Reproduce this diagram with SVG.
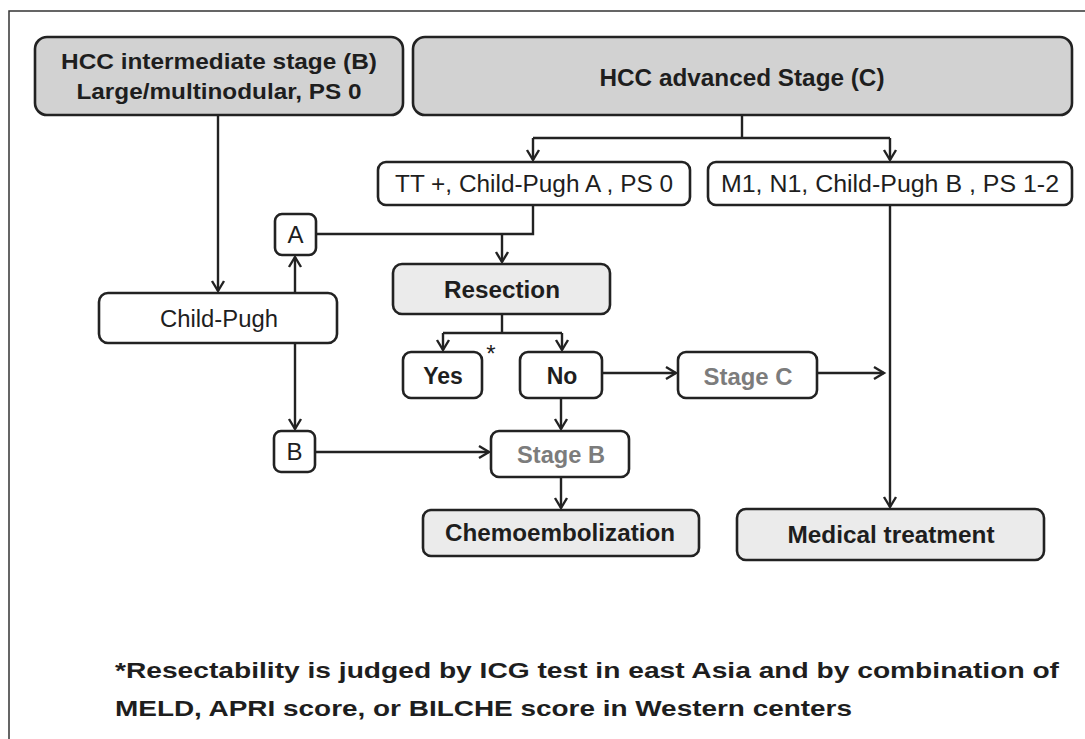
<svg xmlns="http://www.w3.org/2000/svg" width="1085" height="739" viewBox="0 0 1085 739">
<style>
.box{stroke:#222;stroke-width:2.6;fill:#fff}
.dark{fill:#d2d2d2}
.light{fill:#ebebeb}
.t{font-family:"Liberation Sans",Arial,sans-serif;fill:#1e1e1e;text-anchor:middle}
.b{font-weight:bold}
.g{fill:#7c7c7c}
.c{fill:none;stroke:#222;stroke-width:2.4}
.foot{font-family:"Liberation Sans",Arial,sans-serif;font-weight:bold;font-size:22px;fill:#1e1e1e}
</style>
<defs>
<marker id="arr" markerUnits="userSpaceOnUse" markerWidth="16" markerHeight="16" viewBox="-12 -8 14 16" refX="0" refY="0" orient="auto">
<path d="M-10,-6 L0,0 L-10,6" fill="none" stroke="#222" stroke-width="2.4"/>
</marker>
</defs>
<rect width="1085" height="739" fill="#fff"/>
<path d="M9,739 V11 H1085" fill="none" stroke="#333" stroke-width="1.5"/>

<g id="connectors">
<path class="c" d="M218,115 V291" marker-end="url(#arr)"/>
<path class="c" d="M742,115 V138 M533,138 H890"/>
<path class="c" d="M533,138 V160" marker-end="url(#arr)"/>
<path class="c" d="M890,138 V160" marker-end="url(#arr)"/>
<path class="c" d="M533,205 V234 H316"/>
<path class="c" d="M502,234 V262" marker-end="url(#arr)"/>
<path class="c" d="M295,293 V257" marker-end="url(#arr)"/>
<path class="c" d="M295,343 V429" marker-end="url(#arr)"/>
<path class="c" d="M315,452 H489" marker-end="url(#arr)"/>
<path class="c" d="M502,314 V333 M443,333 H562"/>
<path class="c" d="M443,333 V350" marker-end="url(#arr)"/>
<path class="c" d="M562,333 V350" marker-end="url(#arr)"/>
<path class="c" d="M561,398 V429" marker-end="url(#arr)"/>
<path class="c" d="M561,477 V508" marker-end="url(#arr)"/>
<path class="c" d="M602,373 H676" marker-end="url(#arr)"/>
<path class="c" d="M817,373 H884" marker-end="url(#arr)"/>
<path class="c" d="M890,205 V507" marker-end="url(#arr)"/>
</g>

<g id="node-hcc-b">
<rect class="box dark" x="35" y="37" width="368" height="78" rx="12"/>
<text class="t b" x="219" y="69" font-size="22.5" textLength="316" lengthAdjust="spacingAndGlyphs">HCC intermediate stage (B)</text>
<text class="t b" x="219" y="99" font-size="22.5" textLength="285" lengthAdjust="spacingAndGlyphs">Large/multinodular, PS 0</text>
</g>
<g id="node-hcc-c">
<rect class="box dark" x="413" y="37" width="659" height="78" rx="12"/>
<text class="t b" x="742" y="86" font-size="24" textLength="285" lengthAdjust="spacingAndGlyphs">HCC advanced Stage (C)</text>
</g>
<g id="node-tt">
<rect class="box" x="378" y="162" width="312" height="43" rx="8"/>
<text class="t" x="534" y="192" font-size="23" textLength="278" lengthAdjust="spacingAndGlyphs">TT +, Child-Pugh A , PS 0</text>
</g>
<g id="node-m1">
<rect class="box" x="708" y="162" width="364" height="43" rx="8"/>
<text class="t" x="890" y="192" font-size="23" textLength="338" lengthAdjust="spacingAndGlyphs">M1, N1, Child-Pugh B , PS 1-2</text>
</g>
<g id="node-a">
<rect class="box" x="275" y="214" width="41" height="41" rx="7"/>
<text class="t" x="295.5" y="243" font-size="24">A</text>
</g>
<g id="node-childpugh">
<rect class="box" x="99" y="293" width="238" height="50" rx="9"/>
<text class="t" x="219" y="327" font-size="23" textLength="118" lengthAdjust="spacingAndGlyphs">Child-Pugh</text>
</g>
<g id="node-resection">
<rect class="box light" x="393" y="264" width="217" height="50" rx="9"/>
<text class="t b" x="502" y="298" font-size="23" textLength="116" lengthAdjust="spacingAndGlyphs">Resection</text>
</g>
<g id="node-yes">
<rect class="box" x="403" y="352" width="79" height="46" rx="8"/>
<text class="t b" x="443" y="384" font-size="23">Yes</text>
<text class="t" x="491" y="362" font-size="24">*</text>
</g>
<g id="node-no">
<rect class="box" x="520" y="352" width="82" height="46" rx="8"/>
<text class="t b" x="562" y="384" font-size="23">No</text>
</g>
<g id="node-stagec">
<rect class="box" x="678" y="352" width="139" height="46" rx="8"/>
<text class="t b g" x="748" y="385" font-size="23" textLength="89" lengthAdjust="spacingAndGlyphs">Stage C</text>
</g>
<g id="node-b">
<rect class="box" x="274" y="431" width="41" height="41" rx="7"/>
<text class="t" x="294.5" y="460" font-size="24">B</text>
</g>
<g id="node-stageb">
<rect class="box" x="491" y="431" width="138" height="46" rx="8"/>
<text class="t b g" x="561" y="463" font-size="23" textLength="88" lengthAdjust="spacingAndGlyphs">Stage B</text>
</g>
<g id="node-chemo">
<rect class="box light" x="423" y="510" width="276" height="46" rx="8"/>
<text class="t b" x="560" y="541" font-size="23" textLength="230" lengthAdjust="spacingAndGlyphs">Chemoembolization</text>
</g>
<g id="node-medical">
<rect class="box light" x="737" y="509" width="307" height="51" rx="9"/>
<text class="t b" x="891" y="543" font-size="23" textLength="207" lengthAdjust="spacingAndGlyphs">Medical treatment</text>
</g>

<g id="footnote">
<text class="foot" x="115" y="678" textLength="944" lengthAdjust="spacingAndGlyphs">*Resectability is judged by ICG test in east Asia and by combination of</text>
<text class="foot" x="115" y="716" textLength="737" lengthAdjust="spacingAndGlyphs">MELD, APRI score, or BILCHE score in Western centers</text>
</g>
</svg>
